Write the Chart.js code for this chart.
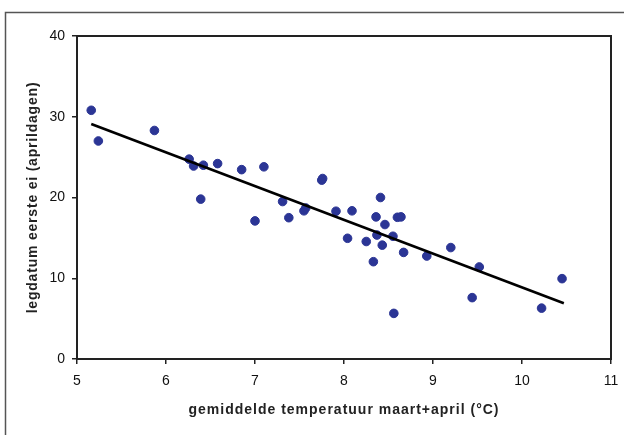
<!DOCTYPE html>
<html>
<head>
<meta charset="utf-8">
<script src="https://cdn.jsdelivr.net/npm/chart.js@4.4.1/dist/chart.umd.min.js"></script>
<style>
  html, body { margin: 0; padding: 0; background: #fff; }
  #wrap { width: 624px; height: 435px; position: relative; }
</style>
</head>
<body>
<div id="wrap"><canvas id="c" width="624" height="435"></canvas></div>
<script>
// Temperature (°C, mean March+April) per year
const temperatures = [5.16, 5.24, 5.87, 6.26, 6.31, 6.42, 6.58, 6.39, 6.85, 7.10,
  7.00, 7.31, 7.38, 7.55, 7.57, 7.75, 7.76, 7.91, 8.04, 8.09,
  8.25, 8.33, 8.36, 8.41, 8.46, 8.37, 8.43, 8.55, 8.60, 8.64,
  8.67, 8.56, 8.93, 9.20, 9.44, 9.52, 10.22, 10.45];
// Laying date of first egg (April days)
const layDates = [30.8, 27.0, 28.3, 24.75, 23.9, 24.0, 24.2, 19.8, 23.45, 23.8,
  17.1, 19.5, 17.5, 18.35, 18.7, 22.15, 22.35, 18.3, 14.95, 18.35,
  14.55, 12.05, 17.6, 20.0, 16.65, 15.35, 14.1, 15.2, 17.55, 17.6,
  13.2, 5.65, 12.75, 13.8, 7.6, 11.4, 6.3, 9.95];
// Trend line endpoints
const trendX = [5.16, 10.47];
const trendY = [29.1, 6.9];

const xTickValues = [5, 6, 7, 8, 9, 10, 11];
const yTickValues = [0, 10, 20, 30, 40];
const xTitle = 'gemiddelde temperatuur maart+april (°C)';
const yTitle = 'legdatum eerste ei (aprildagen)';

const points = temperatures.map((t, i) => ({ x: t, y: layDates[i] }));
const trend = trendX.map((t, i) => ({ x: t, y: trendY[i] }));

const frame = {
  id: 'frame',
  beforeDraw(chart) {
    const ctx = chart.ctx;
    ctx.save();
    ctx.fillStyle = '#fff';
    ctx.fillRect(0, 0, chart.width, chart.height);
    ctx.strokeStyle = '#555';
    ctx.lineWidth = 1.5;
    ctx.beginPath();
    ctx.moveTo(5.5, 435);
    ctx.lineTo(5.5, 12.5);
    ctx.lineTo(624, 12.5);
    ctx.stroke();
    ctx.restore();
  },
  afterDatasetsDraw(chart) {
    const { ctx, chartArea: a } = chart;
    ctx.save();
    ctx.strokeStyle = '#222';
    ctx.lineWidth = 2;
    ctx.strokeRect(a.left, a.top, a.right - a.left, a.bottom - a.top);
    ctx.restore();
  }
};

function spacedTitle(scale, spacing) {
  if (scale._spacedTitle) return;
  scale._spacedTitle = true;
  const orig = scale.drawTitle;
  scale.drawTitle = function () {
    const ctx = this.ctx;
    ctx.save();
    ctx.letterSpacing = spacing;
    orig.call(this);
    ctx.restore();
  };
}

const tickFont = { family: 'Liberation Sans, Arial, sans-serif', size: 14 };
const titleFont = { family: 'Liberation Sans, Arial, sans-serif', size: 14, weight: 'bold' };

new Chart(document.getElementById('c'), {
  type: 'scatter',
  data: {
    datasets: [
      {
        label: 'data',
        data: points,
        backgroundColor: '#2B3595',
        borderColor: '#2B3595',
        pointRadius: 4.3,
        pointHoverRadius: 4.3,
        pointStyle: 'circle',
        order: 2
      },
      {
        label: 'trend',
        type: 'line',
        data: trend,
        borderColor: '#000',
        borderWidth: 2.6,
        pointRadius: 0,
        fill: false,
        order: 1
      }
    ]
  },
  options: {
    responsive: false,
    animation: false,
    events: [],
    layout: { padding: { left: 0, top: 36, right: 13, bottom: 0 } },
    plugins: { legend: { display: false }, tooltip: { enabled: false } },
    scales: {
      x: {
        type: 'linear',
        min: 5, max: 11,
        afterFit(scale) { scale.height = 76; scale.paddingLeft = 0; scale.paddingRight = 0; spacedTitle(scale, '1px'); },
        afterBuildTicks(scale) { scale.ticks = xTickValues.map(v => ({ value: v })); },
        grid: { drawOnChartArea: false, drawTicks: true, tickLength: 5, color: '#222', lineWidth: 1.5 },
        border: { display: true, color: '#222', width: 2 },
        ticks: { font: tickFont, color: '#111', padding: 9, maxRotation: 0 },
        title: { display: true, text: xTitle, font: titleFont, color: '#222', padding: { top: 0, bottom: 16 } }
      },
      y: {
        type: 'linear',
        min: 0, max: 40,
        afterFit(scale) { scale.width = 77; scale.paddingTop = 0; scale.paddingBottom = 0; spacedTitle(scale, '0.8px'); },
        afterBuildTicks(scale) { scale.ticks = yTickValues.map(v => ({ value: v })); },
        grid: { drawOnChartArea: false, drawTicks: true, tickLength: 5, color: '#222', lineWidth: 1.5 },
        border: { display: true, color: '#222', width: 2 },
        ticks: { font: tickFont, color: '#111', padding: 7 },
        title: { display: true, text: yTitle, font: titleFont, color: '#222', padding: { top: 25, bottom: 0 } }
      }
    }
  },
  plugins: [frame]
});
</script>
</body>
</html>
